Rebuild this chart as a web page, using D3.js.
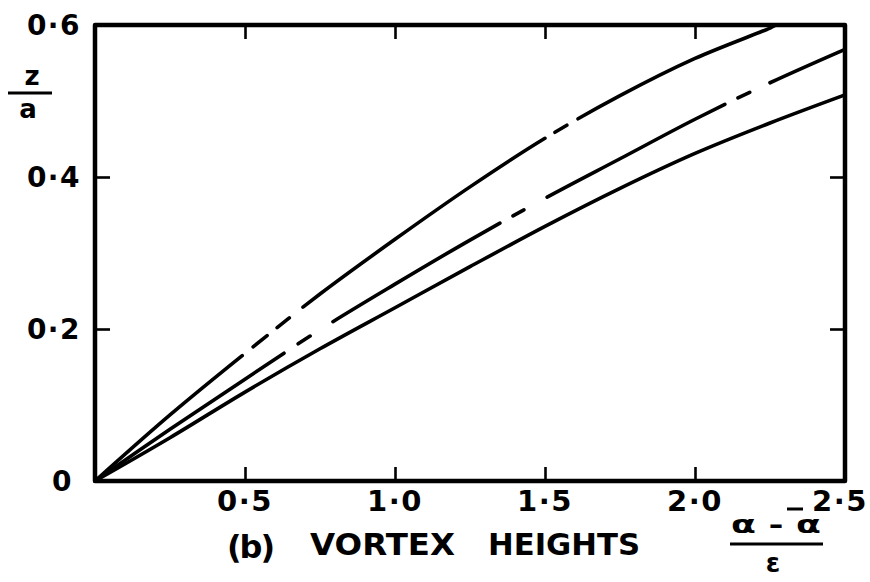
<!DOCTYPE html>
<html>
<head>
<meta charset="utf-8">
<script src="https://cdn.jsdelivr.net/npm/d3@7"></script>
<style>
  body { margin: 0; background: #fff; }
  svg { display: block; }
  text { font-family: "DejaVu Sans", sans-serif; font-weight: bold; fill: #000; }
</style>
</head>
<body>
<svg width="870" height="582"></svg>
<script>
// Chart data
var xValues = [0, 0.25, 0.5, 0.75, 1.0, 1.25, 1.5, 1.75, 2.0, 2.25, 2.5];
var upperX = [0, 0.25, 0.5, 0.75, 1.0, 1.25, 1.5, 1.75, 2.0, 2.25, 2.27];
var upperZ = [0, 0.087, 0.168, 0.246, 0.318, 0.387, 0.451, 0.507, 0.556, 0.596, 0.6];
var middleZ = [0, 0.068, 0.134, 0.199, 0.259, 0.317, 0.372, 0.424, 0.476, 0.524, 0.568];
var lowerZ = [0, 0.057, 0.117, 0.174, 0.228, 0.282, 0.335, 0.385, 0.431, 0.471, 0.508];

// breaks in the drawn lines (x ranges where the pen was lifted)
var upperGaps = [[0.5, 0.527], [0.583, 0.607], [0.657, 0.693], [1.51, 1.533], [1.583, 1.61]];
var middleGaps = [[0.64, 0.677], [0.727, 0.793], [1.36, 1.393], [1.44, 1.507], [2.11, 2.143], [2.193, 2.25]];
var lowerGaps = [];

var xTicks = [0.5, 1.0, 1.5, 2.0, 2.5];
var yTicks = [0, 0.2, 0.4, 0.6];

var svg = d3.select("svg");
var x = d3.scaleLinear().domain([0, 2.5]).range([95, 845]);
var y = d3.scaleLinear().domain([0, 0.6]).range([481, 25]);
var lineWidth = 3.6;

function fmt(d) {
    if (d === 0) return "0";
    return d3.format(".1f")(d).replace(".", "·");
}

// ticks on all four sides, pointing inwards
var inner = [0.5, 1.0, 1.5, 2.0];
function tickAxis(g, axis) {
    g.call(axis);
    g.select(".domain").remove();
    g.selectAll("line").attr("stroke", "#000").attr("stroke-width", 2.6);
}
svg.append("g").attr("transform", "translate(0,481)")
    .call(tickAxis, d3.axisBottom(x).tickValues(inner).tickSize(-14).tickFormat(""));
svg.append("g").attr("transform", "translate(0,25)")
    .call(tickAxis, d3.axisTop(x).tickValues(inner).tickSize(-14).tickFormat(""));
svg.append("g").attr("transform", "translate(95,0)")
    .call(tickAxis, d3.axisLeft(y).tickValues([0.2, 0.4]).tickSize(-15).tickFormat(""));
svg.append("g").attr("transform", "translate(845,0)")
    .call(tickAxis, d3.axisRight(y).tickValues([0.2, 0.4]).tickSize(-15).tickFormat(""));

// curves
var line = d3.line()
    .x(function (d) { return x(d[0]); })
    .y(function (d) { return y(d[1]); })
    .curve(d3.curveCatmullRom.alpha(0.5));

var series = [
    { xs: upperX, zs: upperZ, gaps: upperGaps },
    { xs: xValues, zs: middleZ, gaps: middleGaps },
    { xs: xValues, zs: lowerZ, gaps: lowerGaps }
];

series.forEach(function (s) {
    var pts = s.xs.map(function (v, i) { return [v, s.zs[i]]; });
    var path = svg.append("path")
        .attr("d", line(pts))
        .attr("fill", "none")
        .attr("stroke", "#000")
        .attr("stroke-width", lineWidth)
        .attr("stroke-linecap", "round");
    if (!s.gaps.length) return;
    var node = path.node();
    var total = node.getTotalLength();
    function lengthAt(px) {
        var lo = 0, hi = total;
        for (var k = 0; k < 40; k++) {
            var mid = (lo + hi) / 2;
            if (node.getPointAtLength(mid).x < px) lo = mid; else hi = mid;
        }
        return lo;
    }
    var dash = [], prev = 0;
    s.gaps.forEach(function (g) {
        var a = lengthAt(x(g[0])), b = lengthAt(x(g[1]));
        dash.push(Math.max(0.1, a - prev - lineWidth), b - a + lineWidth);
        prev = b;
    });
    dash.push(total - prev, total);
    path.attr("stroke-dasharray", dash.join(" "));
});

// frame
svg.append("path")
    .attr("d", "M" + x(0) + "," + y(0.6) + "H" + x(2.5) + "V" + y(0) + "H" + x(0) + "Z")
    .attr("fill", "none")
    .attr("stroke", "#000")
    .attr("stroke-width", 4.5)
    .attr("stroke-linejoin", "round");

// tick labels
svg.selectAll(".xlab").data(xTicks).enter().append("text")
    .attr("class", "xlab")
    .attr("x", function (d) { return x(d) + (d === 2.5 ? -5 : 0); })
    .attr("y", 511)
    .attr("text-anchor", "middle")
    .attr("font-size", 29)
    .attr("letter-spacing", 1.5)
    .text(fmt);

svg.selectAll(".ylab").data(yTicks).enter().append("text")
    .attr("class", "ylab")
    .attr("x", function (d) { return d === 0 ? 73 : 81; })
    .attr("y", function (d) { return y(d) + 10; })
    .attr("text-anchor", "end")
    .attr("font-size", 28)
    .attr("letter-spacing", 1.5)
    .text(fmt);

// y axis label z/a
svg.append("text").attr("x", 32).attr("y", 85).attr("text-anchor", "middle")
    .attr("font-size", 26).text("z");
svg.append("line").attr("x1", 8).attr("x2", 52).attr("y1", 93).attr("y2", 93)
    .attr("stroke", "#000").attr("stroke-width", 3);
svg.append("text").attr("x", 28).attr("y", 118).attr("text-anchor", "middle")
    .attr("font-size", 26).text("a");

// caption
svg.append("text").attr("x", 227).attr("y", 558)
    .attr("font-size", 32).attr("textLength", 48).text("(b)");
svg.append("text").attr("x", 310).attr("y", 555)
    .attr("font-size", 31).attr("textLength", 145).attr("lengthAdjust", "spacingAndGlyphs").text("VORTEX");
svg.append("text").attr("x", 488).attr("y", 555)
    .attr("font-size", 31).attr("textLength", 152).attr("lengthAdjust", "spacingAndGlyphs").text("HEIGHTS");

// x axis label (alpha - alpha bar) / epsilon
svg.append("text").attr("x", 776).attr("y", 533).attr("text-anchor", "middle")
    .attr("font-size", 24).attr("textLength", 90).attr("lengthAdjust", "spacingAndGlyphs").text("α - α");
svg.append("line").attr("x1", 787).attr("x2", 803).attr("y1", 509).attr("y2", 509)
    .attr("stroke", "#000").attr("stroke-width", 3);
svg.append("line").attr("x1", 730).attr("x2", 823).attr("y1", 544).attr("y2", 544)
    .attr("stroke", "#000").attr("stroke-width", 3);
svg.append("text").attr("x", 773).attr("y", 572).attr("text-anchor", "middle")
    .attr("font-size", 26).text("ε");
</script>
</body>
</html>
